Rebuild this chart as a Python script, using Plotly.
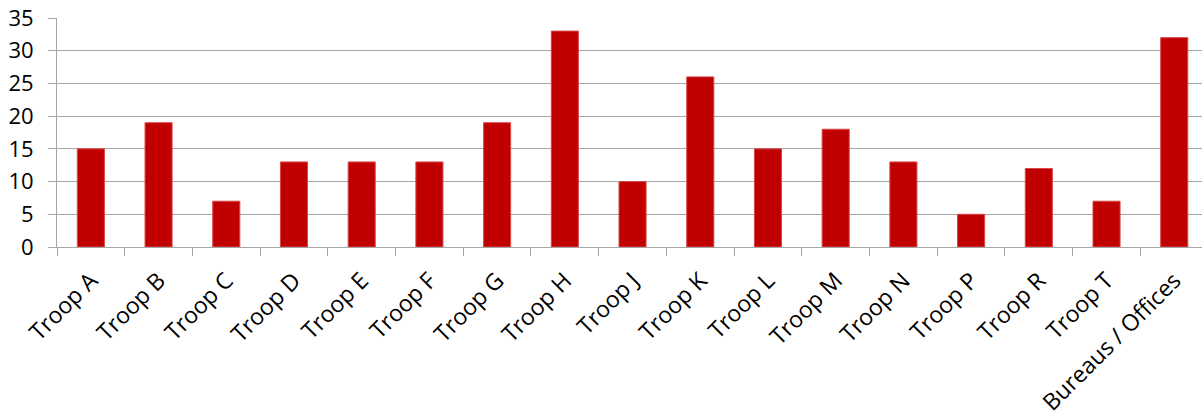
import plotly.graph_objects as go

categories = ["Troop A", "Troop B", "Troop C", "Troop D", "Troop E", "Troop F",
              "Troop G", "Troop H", "Troop J", "Troop K", "Troop L", "Troop M",
              "Troop N", "Troop P", "Troop R", "Troop T", "Bureaus / Offices"]
values = [15, 19, 7, 13, 13, 13, 19, 33, 10, 26, 15, 18, 13, 5, 12, 7, 32]
y_ticks = [0, 5, 10, 15, 20, 25, 30, 35]

fig = go.Figure(go.Bar(
    x=categories, y=values,
    marker=dict(color="#C00000", line=dict(color="#D84848", width=1)),
    width=0.4,
))

grid = "#A6A6A6"
fig.update_layout(
    width=1202, height=418,
    margin=dict(l=57, r=0, t=18, b=171),
    paper_bgcolor="white", plot_bgcolor="white",
    font=dict(family="Open Sans", size=20, color="black"),
    showlegend=False,
    bargap=0.6,
)
fig.update_xaxes(
    range=[-0.5, 16.41], tickangle=-45, tickson="boundaries",
    ticks="outside", ticklen=8, tickcolor=grid, tickwidth=1,
    showline=True, linecolor=grid, linewidth=1, showgrid=False,
    automargin=False, tickfont=dict(size=23),
    ticklabelstandoff=10,
)
fig.update_yaxes(
    range=[0, 35], tickvals=y_ticks, ticks="outside", ticklen=8,
    tickcolor=grid, showline=True, linecolor=grid, linewidth=1,
    showgrid=True, gridcolor=grid, gridwidth=1, zeroline=False,
    ticklabelstandoff=10, tickfont=dict(size=22), automargin=False,
)
fig.write_html(
    "out.html",
    config={"displayModeBar": False},
    post_script="document.body.style.margin='0';document.body.style.overflow='hidden';",
)
